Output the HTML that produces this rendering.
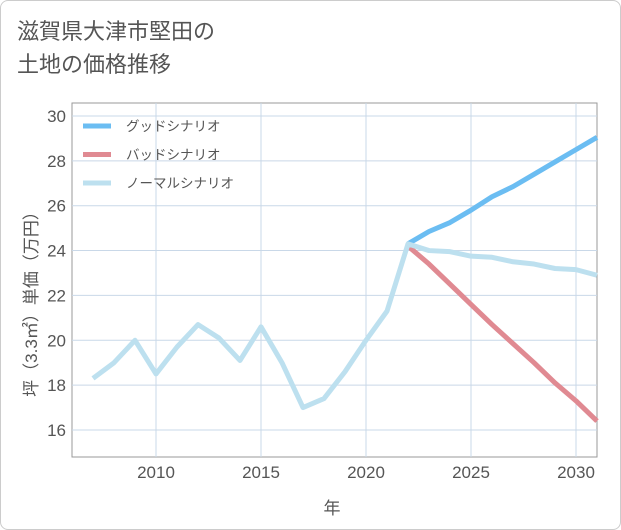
<!DOCTYPE html>
<html><head><meta charset="utf-8"><style>
body{margin:0;background:#fff;}
.wrap{position:relative;width:619px;height:528px;border:1px solid #ccc;border-radius:8px;background:#fff;font-family:"Liberation Sans","Noto Sans CJK JP",sans-serif;overflow:hidden}
.title{position:absolute;left:16px;top:14px;font-size:22px;line-height:33px;color:#555;}
</style></head><body>
<div class="wrap">
<div class="title">滋賀県大津市堅田の<br>土地の価格推移</div>
<svg id="chart" width="621" height="530" style="position:absolute;left:-1px;top:-1px"></svg>
</div>
<script>
const years=[2007,2008,2009,2010,2011,2012,2013,2014,2015,2016,2017,2018,2019,2020,2021,2022,2023,2024,2025,2026,2027,2028,2029,2030,2031];
const normal=[18.3,19.0,20.0,18.5,19.7,20.7,20.1,19.1,20.6,19.0,17.0,17.4,18.6,20.0,21.3,24.3,24.0,23.95,23.75,23.7,23.5,23.4,23.2,23.15,22.9];
const goodYears=[2022,2023,2024,2025,2026,2027,2028,2029,2030,2031];
const good=[24.3,24.85,25.25,25.8,26.4,26.85,27.4,27.95,28.5,29.05];
const bad=[24.2,23.4,22.5,21.6,20.7,19.85,19.0,18.1,17.3,16.4];
const xTicks=[2010,2015,2020,2025,2030];
const yTicks=[16,18,20,22,24,26,28,30];
const L=72,R=597,T=103,B=457;
const x=v=>156+(v-2010)*21;
const y=v=>430-(v-16)*22.43;
const svg=document.getElementById('chart');
const NS='http://www.w3.org/2000/svg';
function mk(t,a){const e=document.createElementNS(NS,t);for(const k in a)e.setAttribute(k,a[k]);svg.appendChild(e);return e;}
let r=mk('rect',{x:L,y:T,width:R-L,height:B-T,fill:'#fff',stroke:'#999','stroke-width':1});


yTicks.forEach(v=>{
 let g=mk('line',{x1:L,x2:R,y1:y(v),y2:y(v),stroke:'#c9d8e8'});
 
 
 let t=mk('text',{x:L-6,y:y(v)+6,'text-anchor':'end','font-size':17,fill:'#555'});t.textContent=v;
 
 
});
xTicks.forEach(v=>{
 let g=mk('line',{x1:x(v),x2:x(v),y1:T,y2:B,stroke:'#c9d8e8'});
 
 
 let t=mk('text',{x:x(v),y:B+21,'text-anchor':'middle','font-size':17,fill:'#555'});t.textContent=v;
 
 
});
function line(xs,ys,c,n){
 let p=mk('polyline',{points:xs.map((v,i)=>x(v)+','+y(ys[i])).join(' '),fill:'none',stroke:c,'stroke-width':5,'stroke-linejoin':'round'});
 
 
}
line(goodYears,good,'#6bbdf2','good-scenario-line');
line(goodYears,bad,'#e08a92','bad-scenario-line');
line(years,normal,'#bde0ef','normal-scenario-line');
const leg=[['グッドシナリオ','#6bbdf2'],['バッドシナリオ','#e08a92'],['ノーマルシナリオ','#bde0ef']];
leg.forEach((l,i)=>{
 let yy=126+i*28.5;
 let s=mk('line',{x1:83,x2:111,y1:yy,y2:yy,stroke:l[1],'stroke-width':5});
 
 
 let t=mk('text',{x:126,y:yy+5,'font-size':13.5,fill:'#555'});t.textContent=l[0];
 
 
});
let xt=mk('text',{x:332,y:514,'text-anchor':'middle','font-size':17,fill:'#555'});xt.textContent='年';


let yt=mk('text',{x:0,y:0,'text-anchor':'middle','font-size':17,fill:'#555',transform:'translate(37,300) rotate(-90)'});yt.textContent='坪（3.3㎡）単価（万円）';


</script>
</body></html>
